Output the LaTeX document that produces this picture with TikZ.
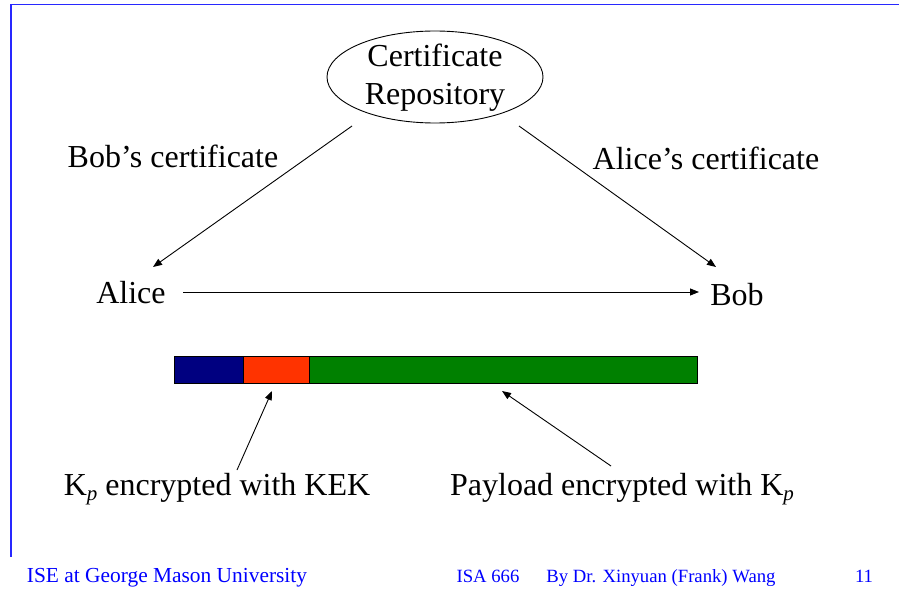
\documentclass[tikz,border=0pt]{standalone}
\usepackage{fontspec}
\setmainfont{Liberation Serif}
\usetikzlibrary{arrows.meta,shapes.geometric}
\definecolor{slideblue}{RGB}{40,40,255}
\definecolor{segnavy}{RGB}{0,0,128}
\definecolor{segred}{RGB}{255,51,0}
\definecolor{seggreen}{RGB}{0,128,0}
\newcommand{\subp}{\raisebox{-5pt}{\fontsize{21}{21}\selectfont\itshape p}}
\tikzset{
  big/.style={font=\fontsize{32}{38}\selectfont, inner sep=0pt, anchor=base},
  foot/.style={font=\fontsize{21.4}{24}\selectfont, text=blue, inner sep=0pt, anchor=base},
  footsmall/.style={font=\fontsize{18.7}{22}\selectfont, text=blue, inner sep=0pt, anchor=base},
  conn/.style={line width=0.9pt, -{Triangle[length=9pt,width=7pt]}},
  seg/.style={draw=black, line width=0.8pt, minimum height=27pt, inner sep=0pt, anchor=north west}
}
\begin{document}
\begin{tikzpicture}[x=1pt,y=-1pt]
\useasboundingbox (0,0) rectangle (899,596);
% slide frame
\draw[slideblue, line width=1.8pt] (10,4.5) -- (899,4.5);
\draw[slideblue, line width=1.5pt] (11,4.5) -- (11,557);
% repository
\node[draw, ellipse, line width=0.9pt, minimum width=216pt, minimum height=92pt, inner sep=0pt] (repo) at (435,77) {};
\node[big] (repo1) at (435,67) {Certificate};
\node[big] (repo2) at (435,105) {Repository};
\node[big] (bobcert) at (173,167.5) {Bob’s certificate};
\node[big] (alicecert) at (706,169.5) {Alice’s certificate};
\node[big, anchor=center] (alice) at (131,293) {Alice};
\node[big, anchor=center] (bob) at (737,295) {Bob};
\coordinate (rl) at (352,126);
\coordinate (rr) at (519,126);
\coordinate (al) at (153,267);
\coordinate (br) at (716,267);
\coordinate (as) at (183,292);
\coordinate (be) at (699,292);
\draw[conn] (rl) -- (al);
\draw[conn] (rr) -- (br);
\draw[conn] (as) -- (be);
% message bar
\node[seg, fill=segnavy, minimum width=69pt] (s1) at (174,356) {};
\node[seg, fill=segred, minimum width=66pt] (s2) at (243,356) {};
\node[seg, fill=seggreen, minimum width=388pt] (s3) at (309,356) {};
\node[big] (kp) at (217,495) {K\subp{} encrypted with KEK};
\node[big] (pl) at (622,495) {Payload encrypted with K\subp};
\coordinate (k1) at (237,470);
\coordinate (k2) at (272,391);
\coordinate (p1) at (611,466);
\coordinate (p2) at (502,391);
\draw[conn] (k1) -- (k2);
\draw[conn] (p1) -- (p2);
% footer
\node[foot] (f1) at (167,582) {ISE at George Mason University};
\node[footsmall] (f2) at (488,582) {ISA 666};
\node[footsmall] (f3) at (661,582) {By Dr. Xinyuan (Frank) Wang};
\node[footsmall] (f4) at (864,582) {11};
\end{tikzpicture}
\end{document}
